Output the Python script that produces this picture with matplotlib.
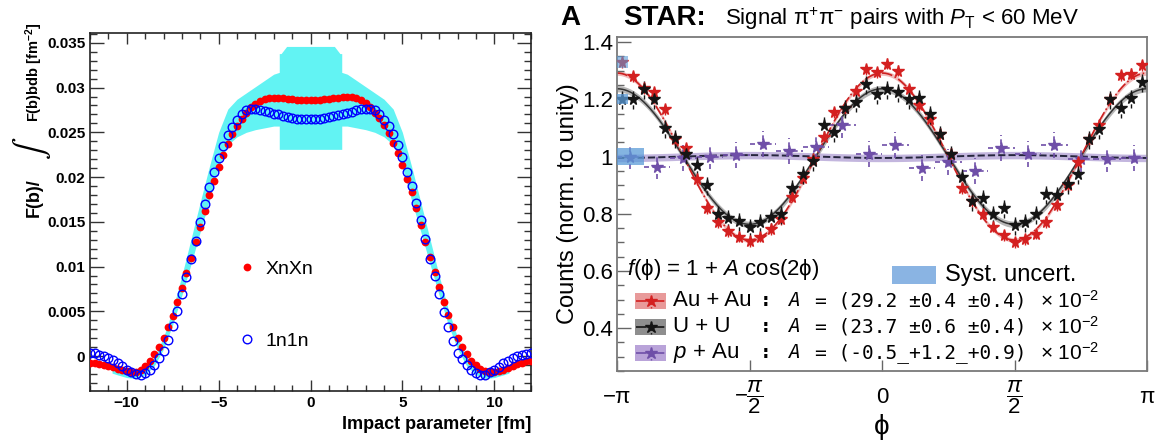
import numpy as np
import matplotlib.pyplot as plt
from matplotlib.patches import Rectangle
from matplotlib.ticker import MultipleLocator, FixedLocator, FormatStrFormatter

plt.rcParams['font.family'] = ['Liberation Sans', 'DejaVu Sans']
plt.rcParams['mathtext.fontset'] = 'custom'
plt.rcParams['mathtext.rm'] = 'Liberation Sans'
plt.rcParams['mathtext.it'] = 'Liberation Sans:italic'
plt.rcParams['mathtext.bf'] = 'Liberation Sans:bold'

# ---------------- left panel: F(b) profiles ----------------
b = np.arange(-12, 12.01, 0.25)
xnxn = [-0.0008, -0.0008, -0.0009, -0.0010, -0.0011, -0.0012, -0.0014, -0.0015,
        -0.0017, -0.0018, -0.0018, -0.0016, -0.0011, -0.0005, 0.0002, 0.0010,
        0.0020, 0.0032, 0.0045, 0.0060, 0.0076, 0.0093, 0.0110, 0.0127,
        0.0144, 0.0162, 0.0180, 0.0196, 0.0211, 0.0225, 0.0237, 0.0248,
        0.0257, 0.0265, 0.0272, 0.0278, 0.0282, 0.0285, 0.0287, 0.0288,
        0.0288, 0.0288, 0.0288, 0.0287, 0.0287, 0.0286, 0.0286, 0.0286,
        0.0286, 0.0286, 0.0286, 0.0287, 0.0287, 0.0288, 0.0288, 0.0289,
        0.0289, 0.0289, 0.0288, 0.0286, 0.0283, 0.0278, 0.0272, 0.0266,
        0.0258, 0.0249, 0.0238, 0.0227, 0.0213, 0.0198, 0.0183, 0.0165,
        0.0146, 0.0128, 0.0111, 0.0094, 0.0077, 0.0061, 0.0046, 0.0032,
        0.0020, 0.0010, 0.0002, -0.0005, -0.0010, -0.0014, -0.0017, -0.0018,
        -0.0018, -0.0017, -0.0015, -0.0013, -0.0011, -0.0009, -0.0008, -0.0006,
        -0.0005]
n1n1 = [0.0003, 0.0003, 0.0001, 0.0000, -0.0002, -0.0004, -0.0008, -0.0011,
        -0.0015, -0.0018, -0.0020, -0.0021, -0.0019, -0.0016, -0.0010, -0.0002,
        0.0006, 0.0018, 0.0034, 0.0050, 0.0069, 0.0088, 0.0108, 0.0129,
        0.0150, 0.0170, 0.0189, 0.0206, 0.0221, 0.0235, 0.0247, 0.0256,
        0.0264, 0.0270, 0.0275, 0.0276, 0.0276, 0.0275, 0.0274, 0.0273,
        0.0271, 0.0270, 0.0268, 0.0267, 0.0266, 0.0265, 0.0265, 0.0265,
        0.0265, 0.0265, 0.0265, 0.0266, 0.0267, 0.0268, 0.0269, 0.0271,
        0.0272, 0.0273, 0.0275, 0.0276, 0.0276, 0.0276, 0.0275, 0.0271,
        0.0264, 0.0257, 0.0248, 0.0236, 0.0222, 0.0206, 0.0190, 0.0171,
        0.0152, 0.0131, 0.0109, 0.0090, 0.0069, 0.0049, 0.0032, 0.0017,
        0.0004, -0.0003, -0.0010, -0.0016, -0.0019, -0.0021, -0.0021, -0.0018,
        -0.0015, -0.0012, -0.0008, -0.0005, -0.0002, 0.0000, 0.0001, 0.0002,
        0.0003]

band_b = [-10.8, -10.5, -10.0, -9.5, -9.0, -8.5, -8.0, -7.5, -7.0, -6.5, -6.0,
          -5.5, -5.0, -4.5, -4.0, -3.5, -3.0, -2.5, -2.0, -1.7, -1.7, -1.6, -1.3,
          1.3, 1.6, 1.7, 1.7, 2.0, 2.5, 3.0, 3.5, 4.0, 4.5, 5.0, 5.5, 6.0,
          6.5, 7.0, 7.5, 8.0, 8.5, 9.0, 9.5, 10.0, 10.5, 10.8]
band_lo = [-0.0019, -0.0021, -0.0024, -0.0025, -0.0021, -0.0011, 0.0008, 0.0035,
           0.0068, 0.0103, 0.0139, 0.0174, 0.0211, 0.0236, 0.0245, 0.0250,
           0.0253, 0.0255, 0.0257, 0.0257, 0.0231, 0.0231, 0.0231,
           0.0231, 0.0231, 0.0231, 0.0257, 0.0257, 0.0255, 0.0253, 0.0250,
           0.0245, 0.0236, 0.0211, 0.0174, 0.0139, 0.0103, 0.0068, 0.0035,
           0.0008, -0.0011, -0.0021, -0.0025, -0.0024, -0.0021, -0.0019]
band_hi = [-0.0010, -0.0012, -0.0014, -0.0015, -0.0011, -0.0001, 0.0021, 0.0052,
           0.0090, 0.0131, 0.0172, 0.0212, 0.0250, 0.0276, 0.0287, 0.0294,
           0.0301, 0.0308, 0.0315, 0.0317, 0.0338, 0.0338, 0.0346,
           0.0346, 0.0338, 0.0338, 0.0317, 0.0315, 0.0308, 0.0301, 0.0294,
           0.0287, 0.0276, 0.0250, 0.0212, 0.0172, 0.0131, 0.0090, 0.0052,
           0.0021, -0.0001, -0.0011, -0.0015, -0.0014, -0.0012, -0.0010]

# ---------------- right panel: STAR cos(2phi) ----------------
phi50 = -np.pi + (np.arange(50) + 0.5) * 2 * np.pi / 50
phi20 = -np.pi + (np.arange(20) + 0.5) * 2 * np.pi / 20
auau = [1.33, 1.28, 1.24, 1.225, 1.165, 1.06, 1.03, 0.92, 0.82, 0.77,
        0.74, 0.72, 0.705, 0.72, 0.745, 0.78, 0.86, 0.925, 0.99, 1.07,
        1.155, 1.17, 1.23, 1.305, 1.295, 1.325, 1.30, 1.235, 1.18, 1.13,
        1.08, 1.01, 0.89, 0.845, 0.80, 0.755, 0.725, 0.70, 0.71, 0.73,
        0.77, 0.83, 0.90, 0.98, 1.06, 1.11, 1.20, 1.285, 1.29, 1.32]
uu = [1.20, 1.20, 1.235, 1.20, 1.10, 1.065, 1.01, 0.97, 0.90, 0.80,
      0.785, 0.775, 0.755, 0.77, 0.79, 0.80, 0.89, 0.94, 0.985, 1.11,
      1.085, 1.17, 1.19, 1.255, 1.22, 1.235, 1.225, 1.20, 1.205, 1.15,
      1.08, 1.01, 0.93, 0.845, 0.855, 0.80, 0.82, 0.76, 0.77, 0.80,
      0.87, 0.865, 0.905, 0.94, 1.06, 1.095, 1.20, 1.17, 1.205, 1.26]
pau = [1.00, 0.965, 0.995, 1.00, 1.005, 1.045, 1.02, 1.035, 1.11, 1.01,
       1.04, 0.96, 0.98, 0.95, 1.03, 1.01, 1.04, 0.99, 0.99, 0.995]
a_auau, a_uu, a_pau = 0.292, 0.237, -0.005
names = ['Au + Au', 'U + U', '$p$ + Au']
amp_txt = ['(29.2 ±0.4 ±0.4)', '(23.7 ±0.6 ±0.4)', '(-0.5_+1.2_+0.9)']

fig = plt.figure(figsize=(11.64, 4.43), dpi=100)

# ---- left axes
ax = fig.add_axes([90/1164, 52/443, 441/1164, 358/443])
ax.fill_between(band_b, band_lo, band_hi, color='#62f3f3', lw=0, zorder=1)
ax.plot(b, xnxn, 'o', color='#ff0000', ms=5.6, mew=0, label='XnXn', zorder=3)
ax.plot(b, n1n1, 'o', mfc='none', mec='#0000ff', mew=1.0, ms=6.2,
        label='1n1n', zorder=4)
ax.set_xlim(-12, 12)
ax.set_ylim(-0.0039, 0.0361)
ax.xaxis.set_major_locator(MultipleLocator(5))
ax.xaxis.set_minor_locator(MultipleLocator(1))
ax.yaxis.set_major_locator(MultipleLocator(0.005))
ax.yaxis.set_minor_locator(MultipleLocator(0.001))
ax.yaxis.set_major_formatter(FormatStrFormatter('%g'))
ax.tick_params(which='both', direction='in', top=True, right=True,
               color='#333333', width=1)
ax.tick_params(axis='y', which='major', length=10)
ax.tick_params(axis='y', which='minor', length=5)
ax.tick_params(axis='x', which='major', length=8)
ax.tick_params(axis='x', which='minor', length=4)
ax.tick_params(labelsize=11)
for lab in ax.get_xticklabels() + ax.get_yticklabels():
    lab.set_fontweight('bold')
for s in ax.spines.values():
    s.set_color('#222222')
    s.set_linewidth(1.2)
ax.set_xlabel('Impact parameter [fm]', fontsize=13, fontweight='bold', ha='right')
ax.xaxis.set_label_coords(1.0, -0.07)
ax.legend(loc='center left', bbox_to_anchor=(0.316, 0.24), frameon=False,
          fontsize=14, handlelength=0.8, handletextpad=0.55,
          labelspacing=2.8, borderpad=0, numpoints=1)

# y label ROOT style, split so the integral sign can be large
fig.text(0.029, 1 - 217/443, 'F(b)/', rotation=90, ha='center', va='bottom',
         fontsize=13, fontweight='bold')
fig.text(0.027, 1 - 148/443, r'$\int$', rotation=90, ha='center', va='center',
         fontsize=24, math_fontfamily='stix')
fig.text(0.029, 1 - 122/443, r'F(b)bdb [fm$^{\mathbf{-2}}$]', rotation=90,
         ha='center', va='bottom', fontsize=10.5, fontweight='bold')

# ---- right axes
ax2 = fig.add_axes([617/1164, 72/443, 530/1164, 334/443])
phi = np.linspace(-np.pi, np.pi, 400)
fit_au = 1 + a_auau * np.cos(2 * phi)
fit_uu = 1 + a_uu * np.cos(2 * phi)
fit_pa = 1 + a_pau * np.cos(2 * phi)
ax2.fill_between(phi, fit_pa - 0.013, fit_pa + 0.013, color='#9c86c9',
                 alpha=0.6, lw=0, zorder=1)
ax2.fill_between(phi, fit_uu - 0.011, fit_uu + 0.011, color='#7a7a7a',
                 alpha=0.55, lw=0, zorder=1)
ax2.fill_between(phi, fit_au - 0.008, fit_au + 0.008, color='#e06a6a',
                 alpha=0.45, lw=0, zorder=1)
ax2.plot(phi, fit_pa, '--', color='#25253d', lw=1.4, zorder=2)
ax2.plot(phi, fit_uu, '-', color='#333333', lw=1.1, zorder=2)
ax2.plot(phi, fit_au, '-.', color='#cc2020', lw=1.2, zorder=2)

col_au, col_uu, col_pa = '#d42020', '#151515', '#6f4fa8'
e1 = ax2.errorbar(phi50, auau, yerr=0.02, fmt='*', color=col_au, ms=8.5,
                  elinewidth=1.0, capsize=0, zorder=4)
e2 = ax2.errorbar(phi50, uu, yerr=0.035, fmt='*', color=col_uu, ms=8.5,
                  elinewidth=1.0, capsize=0, zorder=4)
e3 = ax2.errorbar(phi20, pau, xerr=np.pi/20, yerr=0.045, fmt='*', color=col_pa,
                  ms=8.5, elinewidth=1.2, capsize=0, zorder=3)
for e in (e1, e2, e3):
    for lc in e[2]:
        lc.set_linestyle((0, (3, 2)))

# systematic boxes on the first bins
syst = '#5b9bd8'
ax2.add_patch(Rectangle((-np.pi, pau[0] - 0.03), 2*np.pi/20, 0.06, color=syst,
                        alpha=0.75, lw=0, zorder=5))
ax2.add_patch(Rectangle((-np.pi, uu[0] - 0.018), 2*np.pi/50, 0.036, color=syst,
                        alpha=0.75, lw=0, zorder=5))
ax2.add_patch(Rectangle((-np.pi, auau[0] - 0.022), 2*np.pi/50, 0.044, color=syst,
                        alpha=0.6, lw=0, zorder=5))

ax2.set_xlim(-np.pi, np.pi)
ax2.set_ylim(0.25, 1.418)
ax2.yaxis.set_major_locator(MultipleLocator(0.2))
ax2.yaxis.set_minor_locator(MultipleLocator(0.05))
ax2.yaxis.set_major_formatter(FormatStrFormatter('%g'))
ax2.xaxis.set_major_locator(FixedLocator([-np.pi, -np.pi/2, 0, np.pi/2, np.pi]))
ax2.set_xticklabels(['−π', r'$-\dfrac{π}{2}$', '0', r'$\dfrac{π}{2}$', 'π'],
                    va='center')
ax2.tick_params(axis='y', which='major', direction='in', length=10, width=1,
                color='#666666', labelsize=16, pad=3)
ax2.tick_params(axis='y', which='minor', direction='in', length=5, width=1,
                color='#666666')
ax2.tick_params(axis='x', direction='in', length=8, width=1, color='#666666',
                labelsize=16, pad=19)
for s in ax2.spines.values():
    s.set_color('#7a7a7a')
    s.set_linewidth(1.3)
ax2.set_ylabel('Counts (norm. to unity)', fontsize=17)
ax2.yaxis.set_label_coords(-0.072, 0.5)
ax2.set_xlabel('ϕ', fontsize=20)
ax2.xaxis.set_label_coords(0.5, -0.13)


def fx(px):
    return (px - 617) / 530


def fy(py):
    return (371 - py) / 334


ax2.text(fx(627), fy(270), r'$f$(ϕ) = 1 + $A$ cos(2ϕ)', transform=ax2.transAxes,
         fontsize=16, va='center', ha='left')
ax2.add_patch(Rectangle((fx(892), fy(284)), fx(936) - fx(892), fy(266) - fy(284),
                        transform=ax2.transAxes, color='#8ab4e3', lw=0))
ax2.text(fx(945), fy(275), 'Syst. uncert.', transform=ax2.transAxes,
         fontsize=17, va='center', ha='left')

rows = [301, 327, 353]
box_cols = ['#e89a9a', '#8e8e8e', '#b9a3d9']
ser_cols = [col_au, col_uu, col_pa]
for py, nm, at, bc, sc in zip(rows, names, amp_txt, box_cols, ser_cols):
    y0 = fy(py)
    ax2.add_patch(Rectangle((fx(635), y0 - 0.024), fx(666) - fx(635), 0.048,
                            transform=ax2.transAxes, color=bc, lw=0, zorder=6))
    ax2.plot([fx(636), fx(665)], [y0, y0], '-.', color=sc, lw=1.2,
             transform=ax2.transAxes, zorder=7)
    ax2.plot([fx(650.5)] * 2, [y0 - 0.022, y0 + 0.022], ':', color=sc, lw=1,
             transform=ax2.transAxes, zorder=7)
    ax2.plot([fx(650.5)], [y0], '*', color=sc, ms=9, transform=ax2.transAxes,
             zorder=8)
    ax2.text(fx(673), y0, nm, transform=ax2.transAxes, fontsize=16,
             va='center', ha='left')
    ax2.text(fx(760), y0, ':', transform=ax2.transAxes, fontsize=14,
             va='center', ha='left', family='DejaVu Sans Mono', fontweight='bold')
    ax2.text(fx(788), y0, 'A', transform=ax2.transAxes, fontsize=14,
             va='center', ha='left', family='DejaVu Sans Mono', style='italic')
    ax2.text(fx(815), y0, '= ' + at, transform=ax2.transAxes, fontsize=14,
             va='center', ha='left', family='DejaVu Sans Mono')
    ax2.text(fx(1040), y0, r'× 10$^{-2}$', transform=ax2.transAxes, fontsize=15,
             va='center', ha='left')

# title
fig.text(560/1164, 1 - 25/443, 'A', fontsize=20, fontweight='bold', va='baseline')
fig.text(623/1164, 1 - 25/443, 'STAR:', fontsize=20, fontweight='bold',
         va='baseline')
fig.text(725/1164, 1 - 25/443, r'Signal π$^{+}$π$^{-}$ pairs with $P_{\mathrm{T}}$ < 60 MeV',
         fontsize=16, va='baseline')

fig.savefig('out.png', dpi=100)
